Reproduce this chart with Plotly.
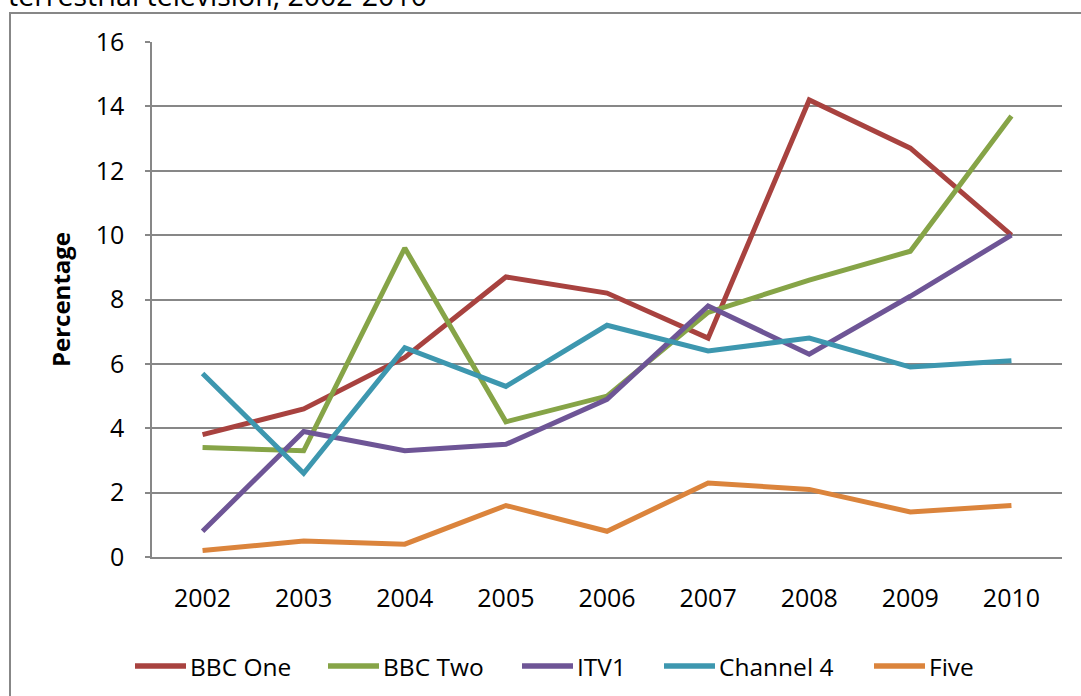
import plotly.graph_objects as go

years = ["2002", "2003", "2004", "2005", "2006", "2007", "2008", "2009", "2010"]
bbc_one = [3.8, 4.6, 6.2, 8.7, 8.2, 6.8, 14.2, 12.7, 10.0]
bbc_two = [3.4, 3.3, 9.6, 4.2, 5.0, 7.6, 8.6, 9.5, 13.7]
itv1 = [0.8, 3.9, 3.3, 3.5, 4.9, 7.8, 6.3, 8.1, 10.0]
channel4 = [5.7, 2.6, 6.5, 5.3, 7.2, 6.4, 6.8, 5.9, 6.1]
five = [0.2, 0.5, 0.4, 1.6, 0.8, 2.3, 2.1, 1.4, 1.6]

series_names = ["BBC One", "BBC Two", "ITV1", "Channel 4", "Five"]
series_values = [bbc_one, bbc_two, itv1, channel4, five]
series_colors = ["#A8423F", "#86A447", "#6E5596", "#3D97AF", "#DB843C"]

W, H = 1081, 696
# plot area in page pixels: x 152..1062, y 42..557
ml, mr, mt, mb = 152, W - 1062, 42, H - 557
pw, ph = W - ml - mr, H - mt - mb

def px2x(p):  # page pixel -> paper x
    return (p - ml) / pw

def px2y(p):  # page pixel -> paper y
    return (H - mb - p) / ph

FONT = "Open Sans"

fig = go.Figure()
for name, vals, col in zip(series_names, series_values, series_colors):
    fig.add_trace(go.Scatter(x=years, y=vals, name=name, mode="lines",
                             line=dict(color=col, width=5), showlegend=False))

# manual legend (line sample + text), positions in page pixels
legend_line_x = [133, 326, 520, 662, 872]
legend_y = 666
shapes = [dict(type="rect", xref="paper", yref="paper",
               x0=px2x(10), x1=px2x(1100), y0=px2y(720), y1=px2y(13),
               line=dict(color="#878787", width=2), fillcolor="rgba(0,0,0,0)",
               layer="below")]
annotations = [dict(text="terrestrial television, 2002-2010", xref="paper", yref="paper",
                    x=px2x(6), y=px2y(16), xanchor="left", yanchor="bottom",
                    showarrow=False, font=dict(family=FONT, size=28.5, color="#000000"))]
for name, col, lx in zip(series_names, series_colors, legend_line_x):
    shapes.append(dict(type="line", xref="paper", yref="paper",
                       x0=px2x(lx + 2), x1=px2x(lx + 53), y0=px2y(legend_y), y1=px2y(legend_y),
                       line=dict(color=col, width=5.5)))
    annotations.append(dict(text=name, xref="paper", yref="paper",
                            x=px2x(lx + 58), y=px2y(legend_y), xanchor="left", yanchor="middle",
                            showarrow=False, xshift=-3,
                            font=dict(family=FONT, size=24.5, color="#000000")))

fig.update_layout(
    width=W, height=H,
    margin=dict(l=ml, r=mr, t=mt, b=mb),
    paper_bgcolor="white", plot_bgcolor="white",
    font=dict(family=FONT, size=25, color="#000000"),
    showlegend=False,
    xaxis=dict(type="category", range=[-0.5, 8.5], showgrid=False,
               showline=True, linecolor="#878787", linewidth=1.5,
               ticks="", tickfont=dict(size=25), ticklabelstandoff=18,
               zeroline=False, fixedrange=True),
    yaxis=dict(range=[0, 16], dtick=2, showgrid=True, gridcolor="#878787",
               gridwidth=1.5, showline=True, linecolor="#878787", linewidth=1.5,
               ticks="outside", ticklen=5, tickcolor="#878787", tickwidth=1.5,
               tickfont=dict(size=25), ticklabelstandoff=16, zeroline=False,
               title=dict(text="<b>Percentage</b>", font=dict(size=24), standoff=18),
               fixedrange=True),
    shapes=shapes,
    annotations=annotations,
)

fig.write_html("out.html", config={"displayModeBar": False},
               post_script="document.body.style.margin='0';")
